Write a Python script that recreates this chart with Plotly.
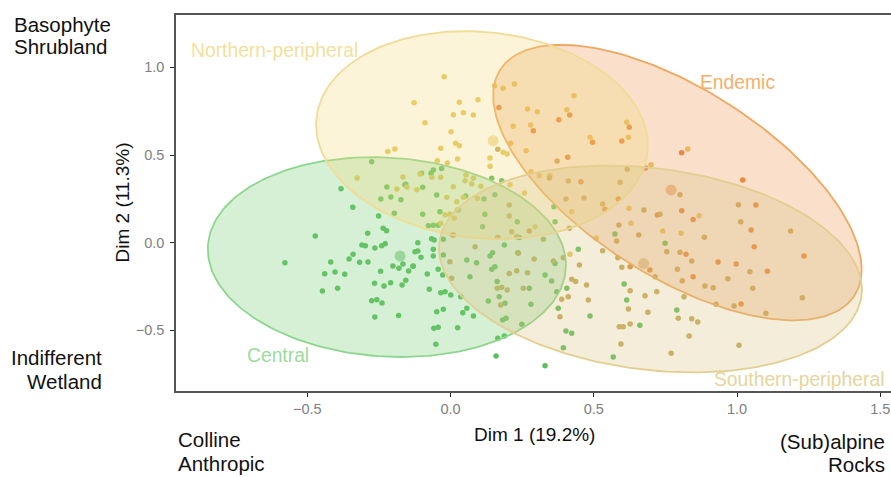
import numpy as np
import plotly.graph_objects as go

# ---------------- data ----------------
groups = ["Central", "Northern-peripheral", "Endemic", "Southern-peripheral"]

central_x = [-0.275,-0.382,-0.222,-0.159,-0.243,-0.208,-0.173,-0.341,-0.251,-0.289,-0.472,-0.235,-0.223,-0.309,-0.297,-0.264,-0.240,-0.228,-0.114,-0.114,-0.103,-0.578,-0.418,-0.354,-0.340,-0.317,-0.288,-0.439,-0.403,-0.369,-0.244,-0.201,-0.180,-0.166,-0.146,-0.131,-0.265,-0.232,-0.209,-0.169,-0.156,-0.447,-0.394,-0.275,-0.257,-0.239,-0.264,-0.181,-0.196,-0.101,-0.068,-0.097,-0.048,-0.037,-0.060,-0.031,0.117,0.155,0.144,0.179,-0.156,-0.097,-0.077,-0.060,-0.043,0.027,0.053,0.120,0.112,0.233,-0.066,-0.057,-0.025,-0.124,-0.060,-0.060,-0.025,0.057,0.091,0.147,0.138,0.188,0.235,-0.130,-0.081,-0.043,-0.027,-0.074,-0.034,-0.019,0.001,0.036,-0.048,-0.025,0.043,0.057,0.080,-0.058,-0.043,0.025,-0.051,0.159,0.165,0.188,0.330,0.144,0.155,0.163,0.170,0.132,0.190,0.194,0.182,0.249,0.281,0.275,0.330,0.353,0.365,0.371,0.406,0.376,0.403,0.423,0.394,0.487,0.446,0.606,0.615,0.661,0.568,0.068,0.240,0.365,0.361,0.574,0.749,0.790]
central_y = [0.462,0.308,0.318,0.331,0.249,0.261,0.245,0.202,0.152,0.054,0.038,0.082,0.068,-0.013,-0.017,-0.030,-0.017,-0.006,0.000,-0.047,-0.083,-0.114,-0.110,-0.093,-0.066,-0.112,-0.110,-0.177,-0.167,-0.180,-0.163,-0.133,-0.146,-0.122,-0.161,-0.135,-0.232,-0.247,-0.228,-0.241,-0.214,-0.276,-0.260,-0.331,-0.325,-0.344,-0.424,-0.416,0.168,0.396,0.396,0.316,0.272,0.177,0.415,0.424,0.249,0.274,0.367,0.354,0.333,0.162,0.097,0.099,0.099,0.187,0.266,0.162,0.091,0.120,0.023,0.015,0.019,-0.051,-0.038,-0.076,-0.070,-0.099,-0.114,-0.057,-0.076,-0.013,-0.057,-0.133,-0.179,-0.152,-0.184,-0.266,-0.285,-0.280,-0.298,-0.308,-0.394,-0.380,-0.399,-0.374,-0.418,-0.488,-0.483,-0.485,-0.580,-0.646,-0.545,-0.532,-0.702,-0.152,-0.137,-0.222,-0.308,-0.333,-0.346,-0.431,-0.441,-0.465,-0.351,-0.260,-0.184,-0.218,-0.118,-0.280,-0.260,-0.374,-0.504,-0.517,-0.599,-0.418,-0.038,-0.236,-0.327,-0.471,-0.652,-0.194,0.029,0.120,0.205,0.050,-0.003,-0.384]

northern_x = [-0.022,-0.127,-0.089,-0.219,-0.194,-0.326,-0.166,-0.187,-0.152,-0.117,-0.106,0.031,0.096,0.010,0.045,0.080,0.002,0.018,0.031,-0.034,0.025,-0.046,-0.011,0.138,0.138,0.184,0.198,0.210,0.264,0.219,0.154,0.184,0.223,0.269,0.303,0.280,0.406,0.431,0.487,0.615,0.621,0.700,-0.065,-0.034,0.010,0.051,0.080,0.074,0.106,0.045,0.094,-0.013,0.208,0.258,0.310,0.347,0.828,0.868,0.805,0.741,0.623,0.630,0.054,0.022,-0.019,-0.002,0.013,-0.034,0.024,0.006,0.295,0.423,0.508,0.417,0.281]
northern_y = [0.947,0.799,0.685,0.521,0.535,0.369,0.375,0.306,0.318,0.302,0.392,0.801,0.816,0.730,0.742,0.728,0.633,0.567,0.553,0.539,0.477,0.468,0.455,0.483,0.436,0.516,0.506,0.567,0.525,0.664,0.896,0.881,0.905,0.763,0.747,0.671,0.759,0.839,0.601,0.687,0.601,0.445,0.373,0.373,0.319,0.354,0.367,0.335,0.322,0.259,0.253,0.259,0.331,0.284,0.382,0.382,0.535,0.154,0.054,0.067,0.196,0.111,0.386,0.234,0.158,0.162,0.139,0.111,0.187,0.044,0.091,0.177,0.025,-0.066,0.405]

endemic_x = [0.169,0.289,0.378,0.416,0.496,0.598,0.624,0.409,0.455,0.586,0.681,0.807,1.020,0.807,0.847,1.066,1.049,1.060,1.234,1.106,0.997,0.934,0.847,0.822,1.014,0.539,0.275,0.627,0.696,0.722]
endemic_y = [0.772,0.639,0.702,0.728,0.573,0.580,0.658,0.487,0.348,0.249,0.426,0.513,0.358,0.183,0.133,0.215,0.072,-0.023,-0.076,-0.163,-0.122,-0.110,-0.194,-0.066,-0.350,0.191,0.067,-0.137,-0.156,0.158]

southern_x = [0.165,0.372,0.403,0.466,0.592,0.411,0.617,0.531,0.415,0.324,0.675,0.588,0.657,0.580,0.531,0.584,0.394,0.292,0.359,0.598,0.450,0.801,1.005,1.013,1.187,0.886,0.755,0.801,0.842,0.792,0.809,0.888,0.917,0.968,1.045,1.055,1.228,0.815,0.927,0.990,1.101,0.795,0.842,0.863,0.833,1.007,0.770,-0.002,0.004,0.086,0.205,0.231,0.269,0.237,0.163,0.179,0.198,0.254,0.175,0.423,0.437,0.475,0.411,0.388,0.382,0.481,0.627,0.621,0.627,0.589,0.603,0.595,0.679,0.689,0.714,0.720,0.205,0.214,0.205,0.010,0.165,0.231,0.345,0.731]
southern_y = [0.533,0.466,0.249,0.255,0.345,0.352,0.419,0.221,0.082,0.019,0.187,0.101,0.044,0.010,-0.046,-0.086,-0.086,-0.093,-0.104,-0.140,-0.127,0.274,0.217,0.120,0.067,0.031,-0.051,-0.055,-0.104,-0.152,-0.217,-0.247,-0.257,-0.205,-0.165,-0.260,-0.314,-0.308,-0.351,-0.361,-0.403,-0.431,-0.434,-0.452,-0.532,-0.585,-0.631,-0.108,-0.203,-0.023,-0.175,-0.160,-0.171,-0.060,-0.260,-0.254,-0.270,-0.260,-0.355,-0.209,-0.222,-0.241,-0.308,-0.323,-0.422,-0.327,-0.274,-0.378,-0.464,-0.479,-0.479,-0.578,-0.302,-0.397,-0.194,-0.280,0.152,0.063,0.215,0.044,0.031,0.034,0.369,0.162]

# group mean points
centroid_x = [-0.176, 0.149, 0.770, 0.674]
centroid_y = [-0.076, 0.582, 0.301, -0.119]

# confidence ellipses: centre, half extents along x and y, correlation
ell_cx = [-0.222, 0.110, 0.792, 0.698]
ell_cy = [-0.082, 0.614, 0.343, -0.150]
ell_rx = [0.625, 0.579, 0.643, 0.738]
ell_ry = [0.570, 0.593, 0.786, 0.590]
ell_rho = [-0.08, -0.10, -0.63, -0.20]

x_ticks = [-0.5, 0.0, 0.5, 1.0, 1.5]
x_ticktext = ["\u22120.5", "0.0", "0.5", "1.0", "1.5"]
y_ticks = [-0.5, 0.0, 0.5, 1.0]
y_ticktext = ["\u22120.5", "0.0", "0.5", "1.0"]

# ---------------- styles ----------------
FONT = "Liberation Sans, Arial, Helvetica, sans-serif"
point_col = ["#5cbf5c", "#e6c95e", "#e8843a", "#c4a95a"]
line_col = ["#8ed68e", "#f0dc96", "#f0a860", "#e2cf90"]
fill_col = ["rgba(120,205,120,0.30)", "rgba(240,215,120,0.28)",
            "rgba(238,150,80,0.30)", "rgba(215,195,130,0.30)"]
label_col = ["#9adc9a", "#f3df9b", "#f5ae6b", "#e6d59c"]

pts = [(central_x, central_y), (northern_x, northern_y),
       (endemic_x, endemic_y), (southern_x, southern_y)]

fig = go.Figure()

# points
for i, (xs, ys) in enumerate(pts):
    fig.add_trace(go.Scatter(x=xs, y=ys, mode="markers",
                             marker=dict(size=5.5, color=point_col[i], line=dict(width=0)),
                             hoverinfo="skip", showlegend=False))
# centroids
for i in range(4):
    fig.add_trace(go.Scatter(x=[centroid_x[i]], y=[centroid_y[i]], mode="markers",
                             marker=dict(size=11, color=point_col[i], opacity=0.55, line=dict(width=0)),
                             hoverinfo="skip", showlegend=False))

# ellipses
t = np.linspace(0, 2 * np.pi, 241)
for i in [0, 2, 1, 3]:
    r = ell_rho[i]
    ex = ell_cx[i] + ell_rx[i] * np.cos(t)
    ey = ell_cy[i] + ell_ry[i] * (r * np.cos(t) - np.sqrt(1 - r * r) * np.sin(t))
    fig.add_trace(go.Scatter(x=ex, y=ey, mode="lines", fill="toself",
                             fillcolor=fill_col[i], line=dict(color=line_col[i], width=1.8),
                             hoverinfo="skip", showlegend=False))

ann = []
# group labels (data coords)
grp_lab = [("Central", -0.601, -0.641, "center"),
           ("Northern-peripheral", -0.914, 1.095, "left"),
           ("Endemic", 1.000, 0.915, "center"),
           ("Southern-peripheral", 1.519, -0.783, "right")]
for i, (txt, x, y, xa) in enumerate(grp_lab):
    ann.append(dict(text=txt, x=x, y=y, xref="x", yref="y", xanchor=xa, yanchor="middle",
                    showarrow=False, font=dict(family=FONT, size=19.3, color=label_col[i])))

# corner labels (paper coords)
corner = [("Basophyte", -0.228, 0.976, "left"), ("Shrubland", -0.228, 0.9157, "left"),
          ("Indifferent", -0.1014, 0.0886, "right"), ("Wetland", -0.1014, 0.0247, "right"),
          ("Colline", 0.001, -0.1285, "left"), ("Anthropic", 0.001, -0.1923, "left"),
          ("(Sub)alpine", 0.993, -0.1330, "right"), ("Rocks", 0.993, -0.1955, "right")]
for txt, x, y, xa in corner:
    ann.append(dict(text=txt, x=x, y=y, xref="paper", yref="paper", xanchor=xa, yanchor="middle",
                    showarrow=False, borderpad=0,
                    font=dict(family=FONT, size=20.5, color="#111111")))

# axis titles
ann.append(dict(text="Dim 1 (19.2%)", x=0.5014, y=-0.117, xref="paper", yref="paper",
                xanchor="center", yanchor="middle", showarrow=False,
                font=dict(family=FONT, size=19, color="#111111")))
ann.append(dict(text="Dim 2 (11.3%)", x=-0.0762, y=0.5, xref="paper", yref="paper",
                xanchor="center", yanchor="middle", showarrow=False, textangle=-90,
                font=dict(family=FONT, size=19, color="#111111")))

axis_common = dict(showgrid=False, zeroline=False, showline=True,
                   linecolor="#555555", linewidth=1.6, ticks="outside", ticklen=4,
                   tickwidth=1.2, tickcolor="#222222",
                   tickfont=dict(family=FONT, size=14.5, color="#808080"))

fig.update_layout(
    width=891, height=477,
    margin=dict(l=176, r=0, t=15, b=86, pad=0),
    paper_bgcolor="white", plot_bgcolor="white",
    xaxis=dict(range=[-0.958, 1.5375], tickvals=x_ticks, ticktext=x_ticktext,
               mirror=True, **axis_common),
    yaxis=dict(range=[-0.846, 1.299], tickvals=y_ticks, ticktext=y_ticktext,
               mirror=False, ticklabelstandoff=3, **axis_common),
    annotations=ann,
    showlegend=False,
)

fig.write_html("out.html")
